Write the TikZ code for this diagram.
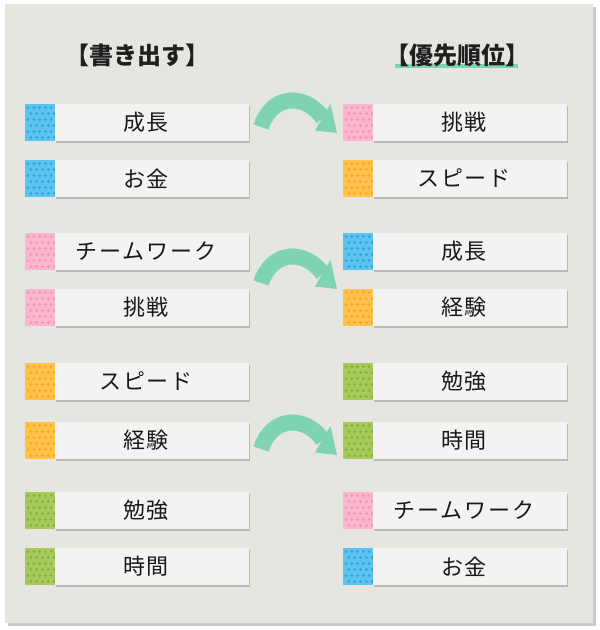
\documentclass[tikz,border=0pt]{standalone}
\usepackage{fontspec}
\setmainfont{Noto Sans CJK JP}
\usetikzlibrary{shadows,calc}
\definecolor{panel}{HTML}{E6E6E1}
\definecolor{panelshadow}{HTML}{C9C9C6}
\definecolor{boxfill}{HTML}{F3F3F3}
\definecolor{agreen}{HTML}{7ED4B1}
\definecolor{sqblue}{HTML}{5EC4EF}
\definecolor{sqblued}{HTML}{2AA4E2}
\definecolor{sqpink}{HTML}{F9B6CD}
\definecolor{sqpinkd}{HTML}{F394B7}
\definecolor{sqorange}{HTML}{FFC24E}
\definecolor{sqoranged}{HTML}{FFA51A}
\definecolor{sqgreen}{HTML}{A7C95E}
\definecolor{sqgreend}{HTML}{84B232}
\newcommand\dotsq[3]{%
  \fill[sq#3] (#1,#2) rectangle ++(30,37);
  \foreach \i in {0,...,4}{\foreach \j in {0,...,5}{%
    \fill[sq#3d] ({#1+3+\i*5.8+mod(\j,2)*2.9},{#2+3.5+\j*6}) circle[radius=1.5pt];}}%
}
\tikzset{
  lbl/.style={rectangle, fill=boxfill, minimum width=194pt, minimum height=37pt,
    inner sep=0pt, font=\fontsize{22}{22}\selectfont\addfontfeature{LetterSpace=8}, text=black!90,
    drop shadow={shadow xshift=0.8pt, shadow yshift=-1.6pt, opacity=0.35, fill=black!60}},
  hdr/.style={font=\fontsize{24}{24}\selectfont\bfseries, text=black!88, inner sep=0pt},
  band/.style={draw=agreen, line width=16pt},
  head/.style={fill=agreen}
}
\begin{document}
\begin{tikzpicture}[x=1pt,y=-1pt]
\useasboundingbox (0,0) rectangle (600,630);
\fill[white] (0,0) rectangle (600,630);
\fill[panelshadow] (8,7) rectangle (596,626);
\fill[panel] (5,4) rectangle (593,623);
% headers
\fill[agreen] (395,64) rectangle (518,68);
\node[hdr] (h1) at (137.5,55) {【書き出す】};
\node[hdr] (h2) at (457,55) {【優先順位】};
% left column
\foreach \t/\c/\txt/\n in {104/blue/成長/1,160/blue/お金/2,233/pink/チームワーク/3,289/pink/挑戦/4,363/orange/スピード/5,422/orange/経験/6,492/green/勉強/7,548/green/時間/8}{
  \dotsq{25}{\t}{\c}
  \node[lbl] (L\n) at (152,\t+18.5) {\hspace*{-12pt}\txt};
}
% right column
\foreach \t/\c/\txt/\n in {104/pink/挑戦/1,160/orange/スピード/2,233/blue/成長/3,289/orange/経験/4,363/green/勉強/5,422/green/時間/6,492/pink/チームワーク/7,548/blue/お金/8}{
  \dotsq{343}{\t}{\c}
  \node[lbl] (R\n) at (470,\t+18.5) {\hspace*{-12pt}\txt};
}
% arrows
\foreach \T/\n in {93/1,249/2,415/3}{
  \coordinate (s\n) at (261,\T+34);
  \coordinate (e\n) at (323,\T+25);
  \coordinate (t\n) at (337,\T+40);
  \draw[band] (s\n) .. controls (271,\T+3) and (303,\T-2) .. (e\n);
  \fill[head] ($(e\n)+(7.5,-14)$) -- (t\n) -- ($(e\n)+(-8,12.5)$) -- cycle;
}
\end{tikzpicture}
\end{document}
